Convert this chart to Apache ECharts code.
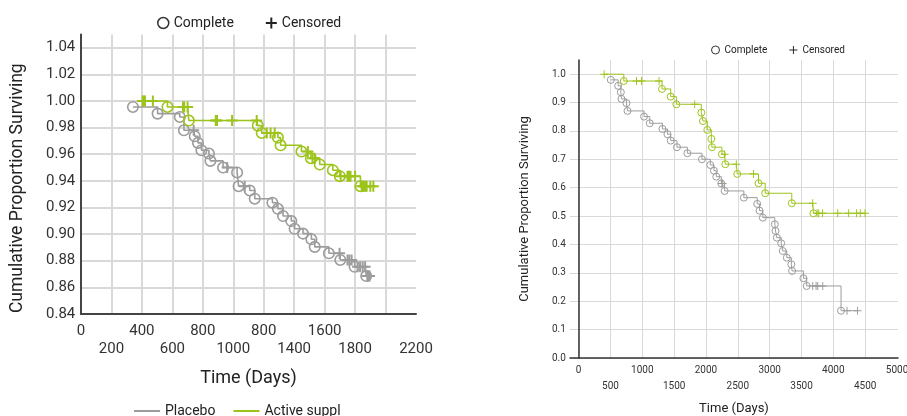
<!DOCTYPE html>
<html>
<head>
<meta charset="utf-8">
<script src="https://cdn.jsdelivr.net/npm/echarts@6/dist/echarts.min.js"></script>
<style>
  html, body { margin: 0; padding: 0; background: #fff; }
  #main { width: 907px; height: 416px; }
</style>
</head>
<body>
<div id="main"></div>
<script>
// kinds: 's' = start of curve, 'c' = complete (event), '+' = censored

// left panel, placebo
const leftPlaceboDays = [341, 503, 649, 676, 740, 747, 768, 791, 840, 850, 933, 960, 1025, 1035, 1075, 1108, 1141, 1257, 1293, 1327, 1381, 1403, 1458, 1513, 1535, 1628, 1698, 1703, 1750, 1762, 1777, 1797, 1816, 1833, 1850, 1866, 1873, 1880, 1888, 1895]
const leftPlaceboSurv = [0.9955, 0.9905, 0.988, 0.978, 0.978, 0.9735, 0.9685, 0.963, 0.9605, 0.955, 0.950, 0.950, 0.9463, 0.936, 0.936, 0.9328, 0.9266, 0.9236, 0.919, 0.9136, 0.9098, 0.904, 0.9004, 0.8961, 0.8904, 0.8856, 0.8856, 0.8806, 0.8806, 0.8806, 0.8806, 0.8755, 0.8755, 0.8755, 0.8755, 0.8755, 0.8685, 0.8685, 0.8685, 0.8685]
const leftPlaceboKinds = ['c', 'c', 'c', 'c', '+', 'c', 'c', 'c', 'c', 'c', 'c', '+', 'c', 'c', '+', 'c', 'c', 'c', 'c', 'c', 'c', 'c', 'c', 'c', 'c', 'c', '+', 'c', '+', '+', '+', 'c', '+', '+', '+', '+', 'c', '+', '+', '+']

// left panel, active supplement
const leftActiveDays = [367, 405, 413, 420, 472, 568, 670, 678, 700, 708, 885, 893, 992, 1154, 1161, 1187, 1220, 1245, 1272, 1293, 1311, 1448, 1490, 1510, 1520, 1535, 1568, 1654, 1700, 1705, 1750, 1760, 1770, 1800, 1835, 1843, 1852, 1860, 1868, 1876, 1900, 1920]
const leftActiveSurv = [1.0, 1.0, 1.0, 1.0, 1.0, 0.9955, 0.9955, 0.9955, 0.9955, 0.9853, 0.9853, 0.9853, 0.9853, 0.9853, 0.9815, 0.9760, 0.9760, 0.9760, 0.9760, 0.9725, 0.9667, 0.962, 0.962, 0.957, 0.957, 0.957, 0.9523, 0.948, 0.9435, 0.9435, 0.9435, 0.9435, 0.9435, 0.9435, 0.936, 0.936, 0.936, 0.936, 0.936, 0.936, 0.936, 0.936]
const leftActiveKinds = ['s', '+', '+', '+', '+', 'c', '+', '+', '+', 'c', '+', '+', '+', '+', 'c', 'c', '+', '+', '+', 'c', 'c', 'c', '+', 'c', '+', '+', 'c', 'c', 'c', '+', '+', '+', '+', '+', 'c', '+', '+', '+', '+', '+', '+', '+']

// right panel, placebo
const rightPlaceboDays = [506, 621, 663, 673, 752, 768, 1028, 1117, 1316, 1395, 1446, 1545, 1708, 1937, 2068, 2125, 2162, 2240, 2250, 2262, 2293, 2595, 2805, 2841, 2893, 3081, 3092, 3112, 3181, 3206, 3269, 3340, 3352, 3530, 3582, 3676, 3729, 3755, 3833, 4121, 4215, 4380]
const rightPlaceboSurv = [0.980, 0.959, 0.9365, 0.913, 0.898, 0.8706, 0.8506, 0.827, 0.807, 0.7885, 0.766, 0.7427, 0.7215, 0.7004, 0.680, 0.660, 0.639, 0.615, 0.615, 0.615, 0.5886, 0.565, 0.543, 0.519, 0.4945, 0.471, 0.4477, 0.424, 0.404, 0.377, 0.3535, 0.330, 0.3067, 0.281, 0.2538, 0.2538, 0.2538, 0.2538, 0.2538, 0.1667, 0.1667, 0.1667]
const rightPlaceboKinds = ['c', 'c', 'c', 'c', 'c', 'c', 'c', 'c', 'c', 'c', 'c', 'c', 'c', 'c', 'c', 'c', 'c', 'c', '+', '+', 'c', 'c', 'c', 'c', 'c', 'c', 'c', 'c', 'c', 'c', 'c', 'c', 'c', 'c', 'c', '+', '+', '+', '+', 'c', '+', '+']

// right panel, active supplement
const rightActiveDays = [401, 710, 909, 987, 1263, 1310, 1446, 1535, 1823, 1927, 1953, 2021, 2084, 2094, 2250, 2293, 2303, 2476, 2491, 2747, 2825, 2930, 3347, 3676, 3687, 3745, 3770, 3830, 4068, 4240, 4365, 4423, 4497]
const rightActiveSurv = [1.0, 0.976, 0.976, 0.976, 0.976, 0.948, 0.921, 0.894, 0.894, 0.8646, 0.835, 0.8037, 0.772, 0.7427, 0.718, 0.718, 0.6828, 0.6828, 0.6486, 0.6486, 0.6158, 0.5805, 0.5453, 0.5453, 0.51, 0.51, 0.51, 0.51, 0.51, 0.51, 0.51, 0.51, 0.51]
const rightActiveKinds = ['+', 'c', '+', '+', '+', 'c', 'c', 'c', '+', 'c', 'c', 'c', 'c', 'c', 'c', '+', 'c', '+', 'c', '+', 'c', 'c', 'c', '+', 'c', '+', '+', '+', '+', '+', '+', '+', '+']

// axis ticks and labels (the third top-row label on the left really reads 800)
const leftXTicks = [0, 200, 400, 600, 800, 1000, 1200, 1400, 1600, 1800, 2000, 2200]
const leftXLabels = ['0', '200', '400', '600', '800', '1000', '800', '1400', '1600', '1800', '2000', '2200']
const rightXTicks = [0, 500, 1000, 1500, 2000, 2500, 3000, 3500, 4000, 4500, 5000]
const rightXLabels = ['0', '500', '1000', '1500', '2000', '2500', '3000', '3500', '4000', '4500', '5000']
const leftYTicks = [0.84, 0.86, 0.88, 0.90, 0.92, 0.94, 0.96, 0.98, 1.00, 1.02, 1.04]
const rightYTicks = [0.0, 0.1, 0.2, 0.3, 0.4, 0.5, 0.6, 0.7, 0.8, 0.9, 1.0]

const GRAY = '#9c9c9c'
const GREEN = '#9dc41b'
const FONT = 'Roboto, "Noto Sans", sans-serif'
const PLUS_THICK = 'path://M0,4.1H10V5.9H0Z M4.1,0H5.9V10H4.1Z'
const PLUS_THIN = 'path://M0,4.4H10V5.6H0Z M4.4,0H5.6V10H4.4Z'

// two rows of tick labels: every second one dropped a line
function stagger(ticks, labels) {
  return v => {
    const i = ticks.findIndex(t => Math.abs(t - v) < 1e-6)
    if (i < 0) return ''
    return i % 2 ? '\n' + labels[i] : labels[i]
  }
}

function kmSeries(name, days, surv, kinds, color, idx, sz) {
  const pts = days.map((d, i) => [d, surv[i]])
  return [{
    name: name,
    type: 'line',
    step: 'end',
    xAxisIndex: idx,
    yAxisIndex: idx,
    data: pts,
    showSymbol: false,
    color: color,
    lineStyle: { color: color, width: sz.line },
    z: 2
  }, {
    name: 'Complete',
    type: 'scatter',
    xAxisIndex: idx,
    yAxisIndex: idx,
    data: pts.filter((p, i) => kinds[i] === 'c'),
    symbol: 'circle',
    symbolSize: sz.circle,
    itemStyle: { color: 'rgba(0,0,0,0)', borderColor: color, borderWidth: sz.border, opacity: 1 },
    z: 3
  }, {
    name: 'Censored',
    type: 'scatter',
    xAxisIndex: idx,
    yAxisIndex: idx,
    data: pts.filter((p, i) => kinds[i] === '+'),
    symbol: sz.plus,
    symbolSize: sz.plusSize,
    itemStyle: { color: color, opacity: 1 },
    z: 4
  }]
}

const bigSize = { line: 1.6, circle: 10.5, border: 1.6, plus: PLUS_THICK, plusSize: 11 }
const smallSize = { line: 1, circle: 7, border: 1, plus: PLUS_THIN, plusSize: 8 }

const chart = echarts.init(document.getElementById('main'), null, { renderer: 'canvas' })

const option = {
  animation: false,
  backgroundColor: '#fff',
  textStyle: { fontFamily: FONT },
  legend: [{
    data: [
      { name: 'Complete', icon: 'circle', itemStyle: { color: 'rgba(0,0,0,0)', borderColor: '#333', borderWidth: 1.5 } },
      { name: 'Censored', icon: PLUS_THICK, itemStyle: { color: '#222', borderWidth: 0 } }
    ],
    left: 152, top: 11,
    itemWidth: 11, itemHeight: 11, itemGap: 32,
    selectedMode: false,
    textStyle: { fontSize: 14, color: '#222', fontFamily: FONT }
  }, {
    data: [
      { name: 'Complete', icon: 'circle', itemStyle: { color: 'rgba(0,0,0,0)', borderColor: '#333', borderWidth: 1 } },
      { name: 'Censored', icon: PLUS_THIN, itemStyle: { color: '#222', borderWidth: 0 } }
    ],
    left: 706, top: 40,
    itemWidth: 8, itemHeight: 8, itemGap: 22,
    selectedMode: false,
    textStyle: { fontSize: 10, color: '#222', fontFamily: FONT }
  }, {
    data: [
      { name: 'Placebo', icon: 'rect', itemStyle: { color: GRAY } },
      { name: 'Active suppl', icon: 'rect', itemStyle: { color: GREEN } }
    ],
    left: 129, top: 399,
    itemWidth: 26, itemHeight: 2, itemGap: 18,
    selectedMode: false,
    textStyle: { fontSize: 14, color: '#222', fontFamily: FONT }
  }],
  grid: [
    { left: 81, top: 34.4, width: 335, height: 279.6, outerBoundsMode: 'none' },
    { left: 570, top: 60, width: 328, height: 298, outerBoundsMode: 'none' }
  ],
  xAxis: [{
    gridIndex: 0,
    type: 'value',
    min: 0, max: 2200,
    name: 'Time (Days)',
    nameLocation: 'middle',
    nameGap: 55,
    nameTextStyle: { fontSize: 18, color: '#222', fontFamily: FONT },
    axisLine: { show: true, lineStyle: { color: '#444', width: 2 } },
    axisTick: { show: false, customValues: leftXTicks.slice(0, -1) },
    axisLabel: {
      customValues: leftXTicks,
      showMinLabel: true, showMaxLabel: true, hideOverlap: false,
      formatter: stagger(leftXTicks, leftXLabels),
      fontSize: 15, lineHeight: 18, margin: 8, color: '#333', fontFamily: FONT
    },
    splitLine: { show: true, lineStyle: { color: '#d9d9d9', width: 2 } }
  }, {
    gridIndex: 1,
    type: 'value',
    min: -135, max: 5015,
    name: 'Time (Days)',
    nameLocation: 'middle',
    nameGap: 44,
    nameTextStyle: { fontSize: 13, color: '#222', fontFamily: FONT },
    axisLine: { show: true, lineStyle: { color: '#333', width: 1.5 } },
    axisTick: { show: false, customValues: rightXTicks.slice(0, -1) },
    axisLabel: {
      customValues: rightXTicks,
      showMinLabel: true, showMaxLabel: true, hideOverlap: false,
      formatter: stagger(rightXTicks, rightXLabels),
      fontSize: 10, lineHeight: 15.5, margin: 5, color: '#333', fontFamily: FONT
    },
    splitLine: { show: true, lineStyle: { color: '#d9d9d9', width: 1 } }
  }],
  yAxis: [{
    gridIndex: 0,
    type: 'value',
    min: 0.84, max: 1.05,
    name: 'Cumulative Proportion Surviving',
    nameLocation: 'middle',
    nameGap: 54,
    nameTextStyle: { fontSize: 17.5, color: '#222', fontFamily: FONT, padding: [0, 28, 0, 0] },
    axisLine: { show: true, lineStyle: { color: '#444', width: 2 } },
    axisTick: { show: false, customValues: leftYTicks },
    axisLabel: {
      customValues: leftYTicks,
      formatter: v => v.toFixed(2),
      fontSize: 15, margin: 35, align: 'left', color: '#333', fontFamily: FONT
    },
    splitLine: { show: true, lineStyle: { color: '#d9d9d9', width: 2 } }
  }, {
    gridIndex: 1,
    type: 'value',
    min: 0, max: 1.05,
    name: 'Cumulative Proportion Surviving',
    nameLocation: 'middle',
    nameGap: 39,
    nameTextStyle: { fontSize: 13, color: '#222', fontFamily: FONT },
    axisLine: { show: true, lineStyle: { color: '#333', width: 1.5 } },
    axisTick: { show: false, customValues: rightYTicks },
    axisLabel: {
      customValues: rightYTicks,
      formatter: v => v.toFixed(1),
      fontSize: 10, margin: 18, align: 'left', color: '#333', fontFamily: FONT
    },
    splitLine: { show: true, lineStyle: { color: '#d9d9d9', width: 1 } }
  }],
  series: [
    ...kmSeries('Placebo', leftPlaceboDays, leftPlaceboSurv, leftPlaceboKinds, GRAY, 0, bigSize),
    ...kmSeries('Active suppl', leftActiveDays, leftActiveSurv, leftActiveKinds, GREEN, 0, bigSize),
    ...kmSeries('Placebo', rightPlaceboDays, rightPlaceboSurv, rightPlaceboKinds, GRAY, 1, smallSize),
    ...kmSeries('Active suppl', rightActiveDays, rightActiveSurv, rightActiveKinds, GREEN, 1, smallSize)
  ]
}

chart.setOption(option)
</script>
</body>
</html>
